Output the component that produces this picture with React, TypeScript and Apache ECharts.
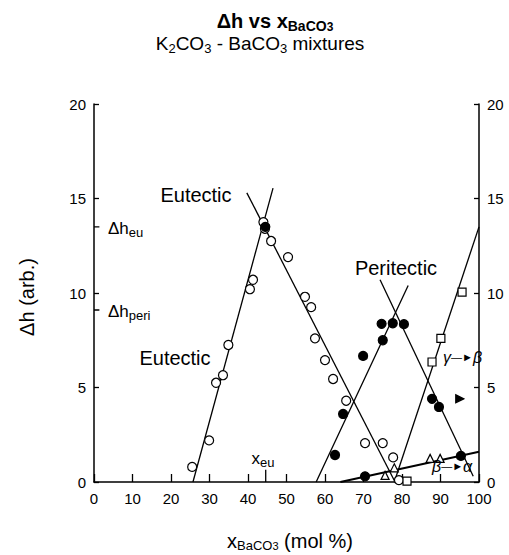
import React, { useEffect, useRef } from "react";
import * as echarts from "echarts";

// ---- data (x: mol % BaCO3, y: Δh arb.) ----
const openCircles: [number, number][] = [
  [25.5, 0.8], [29.9, 2.2], [31.7, 5.25], [33.5, 5.65], [34.9, 7.25], [40.5, 10.2], [41.3, 10.7],
  [44.0, 13.75], [44.4, 13.4], [46.0, 12.75], [50.4, 11.9], [54.8, 9.8], [56.4, 9.25], [57.4, 7.6],
  [60.0, 6.45], [62.1, 5.45], [65.5, 4.3], [70.4, 2.06], [75.0, 2.06], [77.7, 1.3], [73.8, -0.4], [79.2, 0.1],
];
const filledCircles: [number, number][] = [
  [44.5, 13.5], [62.6, 1.43], [64.7, 3.6], [69.9, 6.67], [75.0, 7.5], [74.7, 8.37], [77.6, 8.4],
  [80.5, 8.35], [87.8, 4.4], [89.6, 3.97], [95.3, 1.38], [70.4, 0.3],
];
const openSquares: [number, number][] = [[87.8, 6.35], [90.1, 7.6], [95.6, 10.05], [81.3, 0.05]];
const openTriangles: [number, number][] = [[75.6, 0.35], [78.0, 0.75], [87.3, 1.25], [89.9, 1.25]];
const filledArrow: [number, number][] = [[95.0, 4.4]];

const eutecticRise: [number, number][] = [[25.7, 0], [46.5, 15.55]];
const eutecticFall: [number, number][] = [[39.7, 15.3], [78.2, 0]];
const peritecticRise: [number, number][] = [[57.7, 0], [81.6, 10.4]];
const peritecticFall: [number, number][] = [[74.3, 10.7], [98.5, 0.3]];
const gammaBetaLine: [number, number][] = [[78.0, 0], [100, 13.5]];
const betaAlphaLine: [number, number][] = [[64.0, 0], [100, 1.6]];

const dhEuTick: [number, number][] = [[0, 13.5], [1.4, 13.5]];
const dhPeriTick: [number, number][] = [[0, 9.1], [1.4, 9.1]];
const xEuTick: [number, number][] = [[44.6, 0], [44.6, 0.65]];

const xTicks = [0, 10, 20, 30, 40, 50, 60, 70, 80, 90, 100];
const yTicks = [0, 5, 10, 15, 20];

const FONT = "Liberation Sans, Arial, Helvetica, sans-serif";

const lineSeries = (data: [number, number][]) => ({
  type: "line",
  data,
  yAxisIndex: 0,
  symbol: "none",
  lineStyle: { color: "#000", width: 1.3 },
  silent: true,
  z: 2,
});

const scatter = (data: [number, number][], symbol: string, size: number, fill: string, rotate = 0) => ({
  type: "scatter",
  data,
  yAxisIndex: 0,
  symbol,
  symbolSize: size,
  symbolRotate: rotate,
  itemStyle: { color: fill, borderColor: "#000", borderWidth: 1.2, opacity: 1 },
  z: 3,
});

const rich = {
  m: { fontSize: 19, fontFamily: FONT, color: "#000", lineHeight: 21, verticalAlign: "top" },
  s: { fontSize: 13, fontFamily: FONT, color: "#000", lineHeight: 13, verticalAlign: "bottom", padding: [10, 0, 0, 0] },
  s2: { fontSize: 13, fontFamily: FONT, color: "#000", lineHeight: 13, verticalAlign: "bottom", padding: [8, 0, 0, 0] },
  s3: { fontSize: 11, fontFamily: FONT, color: "#000", lineHeight: 11, verticalAlign: "bottom", padding: [10, 0, 0, 0] },
  t: { fontSize: 20, fontFamily: FONT, color: "#000", lineHeight: 21, verticalAlign: "top" },
  mb: { fontSize: 20, fontFamily: FONT, fontWeight: "bold", color: "#000", lineHeight: 22, verticalAlign: "top" },
  sb: { fontSize: 14, fontFamily: FONT, fontWeight: "bold", color: "#000", lineHeight: 14, verticalAlign: "bottom", padding: [10, 0, 0, 0] },
  sbb: { fontSize: 12, fontFamily: FONT, fontWeight: "bold", color: "#000", lineHeight: 12, verticalAlign: "bottom", padding: [14, 0, 0, 0] },
  l: { fontSize: 17, fontFamily: FONT, color: "#000", lineHeight: 19, verticalAlign: "top" },
  ls: { fontSize: 13, fontFamily: FONT, color: "#000", lineHeight: 13, verticalAlign: "bottom", padding: [9, 0, 0, 0] },
  li: { fontSize: 16, fontFamily: FONT, fontStyle: "italic", color: "#000", lineHeight: 18 },
  la: { fontSize: 11, fontFamily: FONT, color: "#000", lineHeight: 18 },
};

const txt = (x: number, y: number, text: string, align = "center", rotation = 0) => ({
  type: "text",
  x,
  y,
  rotation,
  style: { text, rich, align, verticalAlign: "middle", fill: "#000" },
  z: 10,
});

export default function App() {
  const ref = useRef<HTMLDivElement>(null);
  useEffect(() => {
    if (!ref.current) return;
    const chart = echarts.init(ref.current, null, { renderer: "svg" });
    const yAxisBase = (position: string) => ({
      type: "value",
      position,
      min: 0,
      max: 20,
      interval: 5,
      axisLine: { show: true, onZero: false, lineStyle: { color: "#000", width: 1.5 } },
      axisTick: { show: true, inside: true, length: 5, lineStyle: { color: "#000", width: 1.3 } },
      axisLabel: {
        color: "#000",
        fontSize: 15,
        fontFamily: FONT,
        margin: 8,
        formatter: (v: number) => (yTicks.includes(v) ? String(v) : ""),
      },
      splitLine: { show: false },
    });
    chart.setOption({
      animation: false,
      backgroundColor: "#fff",
      grid: { left: 94, right: 30, top: 104, bottom: 73 },
      xAxis: {
        type: "value",
        min: 0,
        max: 100,
        interval: 10,
        axisLine: { show: true, onZero: false, lineStyle: { color: "#000", width: 1.5 } },
        axisTick: { show: true, inside: true, length: 8, lineStyle: { color: "#000", width: 1.3 } },
        axisLabel: {
          color: "#000",
          fontSize: 15,
          fontFamily: FONT,
          margin: 9,
          formatter: (v: number) => (xTicks.includes(v) ? String(v) : ""),
        },
        splitLine: { show: false },
      },
      yAxis: [yAxisBase("left"), yAxisBase("right")],
      series: [
        lineSeries(eutecticRise),
        lineSeries(eutecticFall),
        lineSeries(peritecticRise),
        lineSeries(peritecticFall),
        lineSeries(gammaBetaLine),
        { ...lineSeries(betaAlphaLine), lineStyle: { color: "#000", width: 2 } },
        lineSeries(dhEuTick),
        lineSeries(dhPeriTick),
        lineSeries(xEuTick),
        scatter(openCircles, "circle", 9, "#fff"),
        scatter(filledCircles, "circle", 9, "#000"),
        scatter(openSquares, "rect", 8, "#fff"),
        scatter(openTriangles, "triangle", 8, "#fff"),
        scatter(filledArrow, "triangle", 8, "#000", -90),
      ],
      graphic: [
        txt(275, 22, "{mb|Δh vs x}{sb|BaCO}{sbb|3}"),
        txt(260, 44, "{m|K}{s|2}{m|CO}{s|3}{m| - BaCO}{s|3}{m| mixtures}"),
        txt(196, 195, "{t|Eutectic}"),
        txt(175, 358, "{t|Eutectic}"),
        txt(396, 268, "{t|Peritectic}"),
        txt(108, 229, "{l|Δh}{ls|eu}", "left"),
        txt(108, 312, "{l|Δh}{ls|peri}", "left"),
        txt(263, 459, "{l|x}{ls|eu}"),
        txt(443, 357, "{li|γ}{la|—►}{li|β}", "left"),
        txt(432, 466, "{li|β}{la|—►}{li|α}", "left"),
        txt(27, 297, "{t|Δh (arb.)}", "center", Math.PI / 2),
        txt(290, 541, "{t|x}{s2|BaCO}{s3|3}{t| (mol %)}"),
      ],
    });
    return () => chart.dispose();
  }, []);
  return <div ref={ref} style={{ position: "fixed", left: 0, top: 0, width: 509, height: 555, background: "#fff" }} />;
}
